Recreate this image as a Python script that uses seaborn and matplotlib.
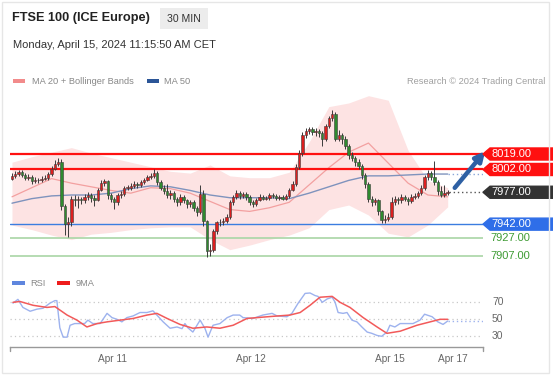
import matplotlib
matplotlib.use('Agg')
import matplotlib.pyplot as plt
import matplotlib.transforms as mtrans
from matplotlib.patches import Rectangle, Polygon
import seaborn as sns

# candles (30 min), index 0..132
opens = [7992, 7995, 7997, 7999, 7996, 7993, 7994, 7989, 7991, 7990,
         7992, 7993, 7997, 8003, 8008, 8010, 7962, 7942, 7944, 7970,
         7968, 7970, 7968, 7972, 7974, 7971, 7969, 7980, 7987, 7989,
         7974, 7970, 7966, 7974, 7975, 7982, 7982, 7984, 7986, 7985,
         7988, 7991, 7994, 7995, 7998, 7988, 7982, 7978, 7974, 7976,
         7970, 7966, 7972, 7968, 7964, 7966, 7960, 7955, 7975, 7945,
         7912, 7914, 7935, 7944, 7944, 7946, 7950, 7966, 7972, 7976,
         7973, 7975, 7972, 7966, 7964, 7969, 7972, 7970, 7971, 7974,
         7973, 7971, 7972, 7970, 7973, 7980, 7986, 8005, 8020, 8040,
         8044, 8046, 8043, 8044, 8042, 8035, 8050, 8058, 8063, 8036,
         8040, 8036, 8028, 8018, 8015, 8010, 8006, 7996, 7986, 7970,
         7966, 7968, 7956, 7947, 7948, 7950, 7966, 7970, 7968, 7972,
         7970, 7967, 7972, 7973, 7976, 7982, 7994, 7998, 7994, 7988,
         7978, 7974, 7976]
closes = [7995, 7997, 7999, 7996, 7993, 7994, 7989, 7991, 7990, 7992,
          7993, 7997, 8003, 8008, 8010, 7962, 7942, 7944, 7970, 7968,
          7970, 7968, 7972, 7974, 7971, 7969, 7980, 7987, 7989, 7974,
          7970, 7966, 7974, 7975, 7982, 7982, 7984, 7986, 7985, 7988,
          7991, 7994, 7995, 7998, 7988, 7982, 7978, 7974, 7976, 7970,
          7966, 7972, 7968, 7964, 7966, 7960, 7955, 7975, 7945, 7912,
          7914, 7935, 7944, 7944, 7946, 7950, 7966, 7972, 7976, 7973,
          7975, 7972, 7966, 7964, 7969, 7972, 7970, 7971, 7974, 7973,
          7971, 7972, 7970, 7973, 7980, 7986, 8005, 8020, 8040, 8044,
          8046, 8043, 8044, 8042, 8035, 8050, 8058, 8063, 8036, 8040,
          8036, 8028, 8018, 8015, 8010, 8006, 7996, 7986, 7970, 7966,
          7968, 7956, 7947, 7948, 7950, 7966, 7970, 7968, 7972, 7970,
          7967, 7972, 7973, 7976, 7982, 7994, 7998, 7994, 7988, 7978,
          7974, 7976, 7977]
highs = [7998, 8000, 8001, 8001, 7998, 7997, 7996, 7994, 7993, 7995,
         7996, 7999, 8006, 8012, 8015, 8013, 7964, 7950, 7973, 7974,
         7973, 7972, 7975, 7977, 7976, 7974, 7982, 7990, 7992, 7990,
         7976, 7972, 7976, 7978, 7984, 7985, 7987, 7989, 7988, 7990,
         7993, 7996, 7998, 8002, 8000, 7990, 7985, 7986, 7979, 7978,
         7972, 7975, 7974, 7970, 7969, 7968, 7962, 7985, 7979, 7947,
         7920, 7937, 7946, 7948, 7949, 7953, 7968, 7974, 7979, 7978,
         7977, 7977, 7974, 7968, 7971, 7975, 7974, 7973, 7976, 7976,
         7975, 7974, 7974, 7975, 7982, 7989, 8008, 8023, 8043, 8048,
         8049, 8049, 8047, 8046, 8044, 8052, 8061, 8067, 8065, 8045,
         8042, 8039, 8030, 8021, 8017, 8013, 8008, 7998, 7988, 7973,
         7971, 7970, 7958, 7952, 7954, 7972, 7973, 7972, 7975, 7974,
         7972, 7975, 7976, 7978, 7985, 7996, 8001, 8000, 8011, 7990,
         7984, 7985, 7980]
lows = [7990, 7993, 7995, 7994, 7990, 7991, 7986, 7987, 7987, 7988,
        7990, 7991, 7995, 8001, 8006, 7958, 7930, 7928, 7940, 7962,
        7960, 7964, 7965, 7969, 7966, 7962, 7967, 7978, 7984, 7970,
        7966, 7959, 7963, 7971, 7973, 7979, 7980, 7982, 7982, 7983,
        7986, 7989, 7992, 7993, 7985, 7979, 7975, 7971, 7970, 7966,
        7962, 7963, 7965, 7960, 7961, 7956, 7951, 7953, 7940, 7906,
        7907, 7911, 7931, 7940, 7941, 7943, 7948, 7963, 7970, 7970,
        7971, 7969, 7963, 7961, 7962, 7967, 7968, 7968, 7969, 7971,
        7969, 7969, 7968, 7968, 7971, 7978, 7984, 8002, 8017, 8037,
        8041, 8040, 8039, 8038, 8028, 8033, 8047, 8055, 8033, 8033,
        8030, 8024, 8014, 8011, 8006, 8002, 7992, 7982, 7966, 7962,
        7963, 7952, 7943, 7943, 7945, 7948, 7963, 7964, 7965, 7967,
        7963, 7965, 7970, 7971, 7974, 7980, 7991, 7990, 7985, 7974,
        7972, 7972, 7974]

ind_idx = [0, 6, 12, 18, 24, 30, 36, 42, 48, 54, 60, 66, 72, 78, 84, 90, 96, 102, 108, 114, 120, 126, 132]
ma20 = [7972, 7982, 7992, 7987, 7983, 7979, 7976, 7982, 7981, 7976, 7967, 7958,
        7956, 7960, 7966, 7985, 8004, 8021, 8031, 8009, 7987, 7974, 7972]
ma50 = [7965, 7970, 7973, 7974, 7974, 7976, 7981, 7984, 7983, 7979, 7974, 7971,
        7971, 7971, 7970, 7976, 7983, 7990, 7995, 7995, 7996, 7997, 7997]
bb_upper = [8010, 8016, 8021, 8026, 8020, 8015, 8010, 8005, 8000, 7998, 8007, 7995,
            7993, 7993, 7999, 8032, 8071, 8075, 8083, 8078, 8023, 7990, 7982]
bb_lower = [7941, 7936, 7930, 7925, 7931, 7933, 7936, 7938, 7939, 7939, 7925, 7914,
            7919, 7925, 7930, 7938, 7958, 7963, 7952, 7932, 7928, 7941, 7961]

rsi_idx = [0.3, 1.8, 3.3, 5.5, 7.6, 9.4, 11.5, 13, 13.6, 14.5, 15.5, 16.7, 17.6, 19, 21.2,
           22, 23, 24.5, 26.7, 28.8, 30.3, 31.8, 33.3, 34.8, 36.7, 38.8, 40.9, 42.7, 43.9,
           45.8, 47.9, 50, 51.5, 52.4, 53.3, 54.8, 57, 58.5, 59.4, 60.9, 63, 65.2, 67, 69,
           70, 73, 76, 78.8, 80.3, 83.3, 84.8, 86.7, 88.8, 90.3, 91.8, 92.7, 94, 95.5, 97,
           97.9, 98.8, 100.3, 101.5, 103, 104.5, 106, 107.6, 109, 110.6, 112, 113.6, 114.5,
           116, 117.6, 119.7, 121.5, 123.6, 125, 127.3, 129, 130.6, 132]
rsi_val = [69, 73.5, 64, 59.5, 62, 63, 69, 72, 72, 40, 29, 29, 43, 45, 45,
           45, 49, 45, 45, 57, 52, 50, 47, 52, 54, 58, 58, 60, 55,
           47, 39.5, 41, 39, 45, 40, 35, 49, 39, 29, 43, 45, 52, 55, 55,
           52, 51, 55, 57, 54, 53, 57, 69, 80.5, 81, 78, 77, 70, 74, 76,
           70, 58, 57, 58, 49, 47, 41, 35, 33.5, 31, 30, 35, 43,
           41, 45, 45, 45, 49, 56, 53, 47, 44, 48]
rsi_ma_idx = [0.3, 2.4, 6.4, 10.6, 13, 16.7, 19.7, 22.7, 25.8, 28.8, 32.7, 36.7, 40.9, 43.9,
              47, 50.9, 54.8, 59, 63, 67, 71.2, 74.2, 79, 84.2, 87.3, 90.3, 93.3, 97, 99.4,
              102.4, 106.4, 110.6, 113.6, 117.6, 122.7, 126.7, 129.7, 132]
rsi_ma_val = [70, 71, 66.5, 64, 65, 55, 49, 41, 45, 47, 49, 51, 55, 57,
              51, 44, 39.5, 41, 39.5, 43, 51, 52, 53.5, 55, 58, 66.5, 76, 77, 70,
              64, 52, 41, 33.5, 36, 43, 47, 50, 50]

levels = [8019, 8002, 7977, 7942, 7927, 7907]
level_labels = ['8019.00', '8002.00', '7977.00', '7942.00', '7927.00', '7907.00']
day_ticks = [30.5, 72.5, 114.5, 133.5]
day_labels = ['Apr 11', 'Apr 12', 'Apr 15', 'Apr 17']

sns.set_theme(style='white')
plt.rcParams['font.family'] = ['Liberation Sans', 'DejaVu Sans']

W, H = 553, 375
fig = plt.figure(figsize=(W / 100, H / 100), dpi=100)
fig.patch.set_facecolor('white')


def fx(x):
    return x / W


def fy(y):
    return 1 - y / H


XLIM = (-0.6, 142.7)

# ---- main price panel ----
ax = fig.add_axes([fx(10), fy(262), fx(473), 172 / H])
ax.set_xlim(*XLIM)
ax.set_ylim(7900.45, 8089.25)
ax.axis('off')

ax.fill_between(ind_idx, bb_lower, bb_upper, color='#fde3e3', lw=0, zorder=1)
sns.lineplot(x=ind_idx, y=ma20, ax=ax, color='#f3a0a0', lw=0.9, zorder=2)
sns.lineplot(x=ind_idx, y=ma50, ax=ax, color='#7f93bd', lw=1.0, zorder=2)
ax.plot([ind_idx[-1], XLIM[1]], [ma50[-1], ma50[-1]], ls=(0, (1, 2)), color='#8aa6d8', lw=1, zorder=2)

ax.axhline(levels[0], color='#ff1010', lw=1.6, zorder=3)
ax.axhline(levels[1], color='#ff1010', lw=1.6, zorder=3)
ax.axhline(levels[3], color='#3b7de0', lw=1.0, zorder=3)
ax.axhline(levels[4], color='#a9d6a6', lw=1.2, zorder=3)
ax.axhline(levels[5], color='#a9d6a6', lw=1.2, zorder=3)
ax.plot([132.5, XLIM[1]], [levels[2], levels[2]], ls=(0, (1, 2)), color='#555555', lw=1, zorder=3)

# candles
idx = list(range(len(closes)))
ax.vlines(idx, lows, highs, color='#3a3a3a', lw=0.7, zorder=4)
up_x = [i for i in idx if closes[i] >= opens[i]]
dn_x = [i for i in idx if closes[i] < opens[i]]
ax.bar(up_x, [max(closes[i] - opens[i], 0.8) for i in up_x], bottom=[opens[i] for i in up_x],
       width=0.72, color='#dc1f1f', edgecolor='#3a3a3a', lw=0.4, zorder=5)
ax.bar(dn_x, [closes[i] - opens[i] for i in dn_x], bottom=[opens[i] for i in dn_x],
       width=0.72, color='#2f8a2f', edgecolor='#3a3a3a', lw=0.4, zorder=5)

ax.annotate('', xy=(143.9, 8024.5), xytext=(133.6, 7979.5),
            arrowprops=dict(arrowstyle='-|>', color='#2e60a4', lw=3.2, mutation_scale=14),
            annotation_clip=False, zorder=6)

# right-side level labels
tr = mtrans.blended_transform_factory(fig.transFigure, ax.transData)
box_cols = ['#ff1010', '#ff1010', '#333333', '#2f6ee8']
half = 6.6
for lvl, lab, col in zip(levels[:4], level_labels[:4], box_cols):
    poly = Polygon([(fx(483), lvl), (fx(490), lvl + half), (fx(553), lvl + half),
                    (fx(553), lvl - half), (fx(490), lvl - half)],
                   closed=True, transform=tr, color=col, clip_on=False, zorder=7)
    ax.add_patch(poly)
    ax.text(fx(511.5), lvl, lab, transform=tr, color='white', fontsize=8.0,
            ha='center', va='center', clip_on=False, zorder=8)
for lvl, lab in zip(levels[4:], level_labels[4:]):
    ax.text(fx(490), lvl, lab, transform=tr, color='#3e9b34', fontsize=8.0,
            ha='left', va='center', clip_on=False)

# ---- RSI panel ----
ax2 = fig.add_axes([fx(10), fy(347), fx(473), 62 / H])
ax2.set_xlim(*XLIM)
ax2.set_ylim(17.4, 90.4)
for v in [70, 50, 30]:
    ax2.axhline(v, color='#c8c8c8', ls=(0, (1, 2.5)), lw=0.9, zorder=1)
    ax2.text(fx(492), v, str(v), transform=mtrans.blended_transform_factory(fig.transFigure, ax2.transData),
             color='#666666', fontsize=7.4, ha='left', va='center')
sns.lineplot(x=rsi_idx, y=rsi_val, ax=ax2, color='#9db2ee', lw=1.0, zorder=3)
sns.lineplot(x=rsi_ma_idx, y=rsi_ma_val, ax=ax2, color='#f25a5a', lw=1.1, zorder=4)
ax2.plot([rsi_idx[-1], XLIM[1]], [rsi_val[-1], rsi_val[-1]], ls=(0, (1, 2)), color='#9db2ee', lw=1)

for s in ['top', 'left', 'right']:
    ax2.spines[s].set_visible(False)
ax2.spines['bottom'].set_color('#999999')
ax2.spines['bottom'].set_linewidth(1.0)
for xe in [0, 1]:
    ax2.plot([xe, xe], [0, -0.07], transform=ax2.transAxes, color='#999999', lw=1.0, clip_on=False)
ax2.set_yticks([])
ax2.set_xticks(day_ticks)
ax2.set_xticklabels(day_labels, color='#666666', fontsize=7.3)
ax2.tick_params(axis='x', length=0, pad=5)
ax2.set_xlabel('')
ax2.set_ylabel('')
ax2.set_facecolor('none')

# ---- header & legends ----
fig.text(fx(12), fy(18), 'FTSE 100 (ICE Europe)', fontsize=9.2, fontweight='bold',
         color='#222222', ha='left', va='center')
fig.add_artist(Rectangle((fx(160), fy(29)), fx(48), 21 / H, transform=fig.transFigure,
                         color='#ececec', lw=0))
fig.text(fx(184), fy(18.5), '30 MIN', fontsize=7.6, color='#333333', ha='center', va='center')
fig.text(fx(13), fy(45), 'Monday, April 15, 2024 11:15:50 AM CET', fontsize=8.0,
         color='#333333', ha='left', va='center')

fig.add_artist(Rectangle((fx(13), fy(83)), fx(12), 4.5 / H, transform=fig.transFigure,
                         color='#f28b8b', lw=0))
fig.text(fx(32), fy(81), 'MA 20 + Bollinger Bands', fontsize=6.7, color='#888888', va='center')
fig.add_artist(Rectangle((fx(147), fy(83)), fx(12), 4.5 / H, transform=fig.transFigure,
                         color='#2b5597', lw=0))
fig.text(fx(164), fy(81), 'MA 50', fontsize=6.7, color='#888888', va='center')
fig.text(fx(545), fy(81), 'Research \u00a9 2024 Trading Central', fontsize=6.7,
         color='#a0a0a0', ha='right', va='center')

fig.add_artist(Rectangle((fx(12), fy(285)), fx(13), 4.5 / H, transform=fig.transFigure,
                         color='#5f86de', lw=0))
fig.text(fx(30), fy(283), 'RSI', fontsize=6.7, color='#888888', va='center')
fig.add_artist(Rectangle((fx(57), fy(285)), fx(13), 4.5 / H, transform=fig.transFigure,
                         color='#ee1c1c', lw=0))
fig.text(fx(76), fy(283), '9MA', fontsize=6.7, color='#888888', va='center')

# outer frame
fig.add_artist(Rectangle((fx(2), fy(373)), fx(547), 371 / H, transform=fig.transFigure,
                         fill=False, edgecolor='#e6e6e6', lw=1))

fig.savefig('out.png', dpi=100)
